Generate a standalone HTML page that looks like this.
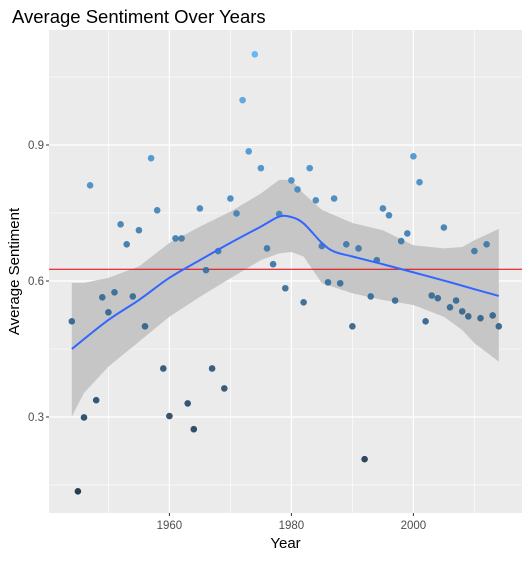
<!DOCTYPE html>
<html><head><meta charset="utf-8"><style>
body{margin:0;background:#fff;width:530px;height:558px;overflow:hidden}
svg text{font-family:"Liberation Sans",sans-serif}
</style></head><body>
<svg id="chart" width="530" height="558" xmlns="http://www.w3.org/2000/svg">
<text x="12" y="23" font-size="18.5" fill="#000">Average Sentiment Over Years</text>
<rect x="49" y="30" width="473" height="483" fill="#EBEBEB"/>
<g id="grid"></g><g id="band"></g><g id="points"></g><g id="axes"></g>
<text x="285.5" y="548" font-size="15" text-anchor="middle" fill="#000">Year</text>
<text transform="translate(19,271.5) rotate(-90)" font-size="15" text-anchor="middle" fill="#000">Average Sentiment</text>
</svg>
<script>
const years=[];for(let y=1944;y<=2014;y++)years.push(y);
const sentiment=[0.511,0.136,0.299,0.811,0.337,0.564,0.531,0.575,0.725,0.681,0.566,0.712,0.500,0.871,0.756,0.407,0.302,0.694,0.694,0.330,0.273,0.760,0.624,0.407,0.666,0.363,0.782,0.749,0.999,0.886,1.100,0.849,0.672,0.637,0.748,0.584,0.822,0.802,0.553,0.849,0.778,0.677,0.597,0.782,0.595,0.681,0.500,0.672,0.207,0.566,0.646,0.760,0.745,0.557,0.688,0.705,0.875,0.818,0.511,0.568,0.562,0.718,0.542,0.557,0.533,0.522,0.666,0.518,0.681,0.524,0.500];
const smoothYears=[1944,1950,1955,1960,1965,1970,1975,1978,1980,1982,1985,1987,1990,1995,2000,2005,2010,2014];
const smoothFit=[0.450,0.514,0.558,0.607,0.646,0.684,0.720,0.742,0.741,0.727,0.684,0.665,0.654,0.637,0.619,0.601,0.582,0.567];
const bandYears=[1944,1946,1950,1955,1960,1965,1970,1975,1978,1980,1982,1985,1990,1995,2000,2005,2008,2010,2014];
const bandUpper=[0.596,0.596,0.607,0.632,0.684,0.720,0.753,0.793,0.823,0.823,0.793,0.757,0.728,0.712,0.679,0.672,0.675,0.690,0.715];
const bandLower=[0.301,0.353,0.411,0.466,0.521,0.565,0.606,0.646,0.661,0.664,0.654,0.595,0.573,0.558,0.547,0.521,0.492,0.463,0.422];
const meanLine=0.626;
const xTicks=[1960,1980,2000];
const yTicks=[0.3,0.6,0.9];
const xMinor=[1950,1970,1990,2010];
const yMinor=[0.15,0.45,0.75,1.05];

const X=v=>169.4+(v-1960)*6.1;
const Y=v=>281-(v-0.6)*453.3;
const NS="http://www.w3.org/2000/svg";
function mk(tag,parent,attrs){const e=document.createElementNS(NS,tag);for(const k in attrs)e.setAttribute(k,attrs[k]);document.getElementById(parent).appendChild(e);return e;}
function smoothPath(xs,ys){const p=xs.map((x,i)=>[X(x),Y(ys[i])]);let d='M'+p[0][0]+','+p[0][1];
for(let i=0;i<p.length-1;i++){const p0=p[i-1]||p[i],p1=p[i],p2=p[i+1],p3=p[i+2]||p2;
d+='C'+(p1[0]+(p2[0]-p0[0])/6)+','+(p1[1]+(p2[1]-p0[1])/6)+' '+(p2[0]-(p3[0]-p1[0])/6)+','+(p2[1]-(p3[1]-p1[1])/6)+' '+p2[0]+','+p2[1];}return d;}
xMinor.forEach(v=>{const l=mk('line','grid',{x1:X(v),x2:X(v),y1:30,y2:513,stroke:'#fff','stroke-width':0.6});

});
yMinor.forEach(v=>{const l=mk('line','grid',{x1:49,x2:522,y1:Y(v),y2:Y(v),stroke:'#fff','stroke-width':0.6});

});
xTicks.forEach(v=>{const l=mk('line','grid',{x1:X(v),x2:X(v),y1:30,y2:513,stroke:'#fff','stroke-width':1.2});


const t=mk('line','axes',{x1:X(v),x2:X(v),y1:513,y2:516,stroke:'#333'});


const tx=mk('text','axes',{x:X(v),y:529,'font-size':11.5,'text-anchor':'middle',fill:'#4D4D4D'});tx.textContent=v;

});
yTicks.forEach(v=>{const l=mk('line','grid',{x1:49,x2:522,y1:Y(v),y2:Y(v),stroke:'#fff','stroke-width':1.2});


const t=mk('line','axes',{x1:46,x2:49,y1:Y(v),y2:Y(v),stroke:'#333'});


const tx=mk('text','axes',{x:44,y:Y(v)+4,'font-size':11.5,'text-anchor':'end',fill:'#4D4D4D'});tx.textContent=v.toFixed(1);

});
let d='';bandYears.forEach((y,i)=>d+=(i?'L':'M')+X(y)+','+Y(bandUpper[i]));
for(let i=bandYears.length-1;i>=0;i--)d+='L'+X(bandYears[i])+','+Y(bandLower[i]);
const band=mk('path','band',{d:d+'Z',fill:'#C6C6C6'});


const h=mk('line','band',{x1:49,x2:522,y1:Y(meanLine),y2:Y(meanLine),stroke:'#E00000','stroke-width':1});


const mn=Math.min(...sentiment),mx=Math.max(...sentiment);
function col(v){const t=(v-mn)/(mx-mn);const a=[0x13,0x2B,0x43],b=[0x56,0xB1,0xF7];return 'rgb('+a.map((c,i)=>Math.round(c+(b[i]-c)*t)).join(',')+')';}
years.forEach((y,i)=>{const c=mk('circle','points',{cx:X(y),cy:Y(sentiment[i]),r:3.3,fill:col(sentiment[i]),'fill-opacity':0.9});

});
const sl=mk('path','points',{d:smoothPath(smoothYears,smoothFit),fill:'none',stroke:'#3366FF','stroke-width':2});


</script>
</body></html>
